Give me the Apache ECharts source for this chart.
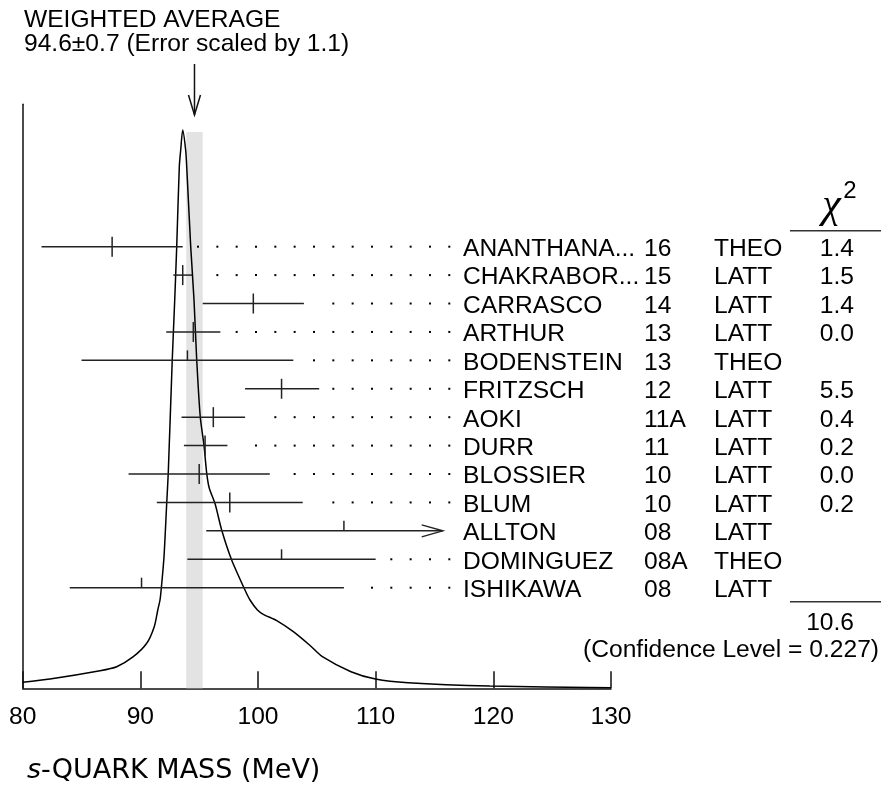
<!DOCTYPE html>
<html><head><meta charset="utf-8">
<script src="https://cdn.jsdelivr.net/npm/echarts@6/dist/echarts.min.js"></script>
<style>html,body{margin:0;padding:0;background:#fff}#c{width:882px;height:787px}</style>
</head><body><div id="c"></div>
<script>
// ---- data ----
const names = ['ANANTHANA...','CHAKRABOR...','CARRASCO','ARTHUR','BODENSTEIN','FRITZSCH','AOKI','DURR','BLOSSIER','BLUM','ALLTON','DOMINGUEZ','ISHIKAWA'];
const years = ['16','15','14','13','13','12','11A','11','10','10','08','08A','08'];
const types = ['THEO','LATT','LATT','LATT','THEO','LATT','LATT','LATT','LATT','LATT','LATT','THEO','LATT'];
const centers = [87.6, 93.6, 99.6, 94.5, 94.0, 102.0, 96.2, 95.5, 95.0, 97.6, 107.3, 102.0, 90.1];
const lows    = [81.6, 92.8, 95.3, 92.2, 85.0,  98.9, 93.5, 93.7, 89.0, 91.4,  95.6,  94.0, 84.0];
const highs   = [93.6, 94.4, 103.9, 96.8, 103.0, 105.2, 98.9, 97.4, 101.0, 103.8, 119.0, 110.0, 107.3];
const chi2    = ['1.4','1.5','1.4','0.0','','5.5','0.4','0.2','0.0','0.2','','',''];
const chi2Total = '10.6';
const confLevel = '(Confidence Level = 0.227)';
const wavg = 94.6, wavgErr = 0.7;
const titleLines = ['WEIGHTED AVERAGE', '94.6\u00b10.7 (Error scaled by 1.1)'];
const xTicks = [80, 90, 100, 110, 120, 130];
// ideogram curve (mass, relative height)
const curveX = [80.0, 82.32, 86.57, 87.99, 89.40, 90.54, 91.18, 91.48, 91.67, 91.78, 92.01, 92.24, 92.37, 92.71, 92.92, 93.09, 93.31, 93.43, 93.60,
                93.85, 93.94, 94.28, 94.56, 94.79, 95.09, 95.41, 95.64, 95.86, 96.34, 96.91, 97.76, 98.89, 99.32, 99.95, 100.45, 101.59, 103.0, 104.4, 105.47, 107.9, 109.98, 112.75, 119.7, 130.0];
const curveH = [6.0, 9.3, 17.6, 21.6, 31.6, 45, 61.6, 78.3, 88.3, 100, 131.6, 185, 215, 328.3, 388.3, 441.6, 521.6, 538.3, 558.3,
                538.3, 521.6, 441.6, 388.3, 328.3, 271.6, 242.6, 215, 200, 185, 158.3, 128.3, 98.3, 88.3, 78.3, 74, 67.6, 56.6, 43, 31.6, 16.6, 9.3, 5.6, 2.3, 0.6];

// ---- layout constants ----
const FONT = '"Liberation Sans", Arial, Helvetica, sans-serif';
const FS = 24.6;
const INK = '#111';
const colName = 463, colYear = 644, colType = 714, colChiRight = 854;
const dotEnd = 449.3, dotStep = 19.33, dotGap = 12.5, arrowClamp = 442.7;

const chart = echarts.init(document.getElementById('c'), null, {renderer: 'canvas'});

function txt(x, y, text, align, size, extra) {
  return Object.assign({
    type: 'text', x: x, y: y,
    style: {text: text, fill: '#000', font: (size || FS) + 'px ' + FONT,
      align: align || 'left', verticalAlign: 'middle', textAlign: align || 'left', textVerticalAlign: 'middle'}
  }, extra || {});
}

const bandTop = Math.max.apply(null, curveH) - 2;

const option = {
  animation: false,
  backgroundColor: '#fff',
  grid: {left: 22.7, right: 271, top: 104.3, bottom: 98.7, containLabel: false, outerBoundsMode: 'none'},
  xAxis: {
    type: 'value', min: 80, max: 130, interval: 10,
    axisLine: {show: true, onZero: false, lineStyle: {color: INK, width: 1.5}},
    axisTick: {show: true, inside: true, length: 17, lineStyle: {color: INK, width: 1.5}},
    axisLabel: {show: true, margin: 16, color: '#000', fontSize: FS, fontFamily: FONT, showMinLabel: true, showMaxLabel: true,
      formatter: v => xTicks.indexOf(v) >= 0 ? String(v) : ''},
    splitLine: {show: false}
  },
  yAxis: [
    {type: 'value', min: 0, max: 584, axisLine: {show: true, lineStyle: {color: INK, width: 1.5}},
     axisTick: {show: false}, axisLabel: {show: false}, splitLine: {show: false}},
    {type: 'value', min: -5.01, max: 15.54, inverse: true, show: false, splitLine: {show: false}}
  ],
  series: [
    { // weighted-average band
      type: 'custom', xAxisIndex: 0, yAxisIndex: 0, z: 1, clip: false,
      data: [[wavg - wavgErr, wavg + wavgErr]],
      renderItem: function (params, api) {
        const p1 = api.coord([api.value(0), bandTop]);
        const p2 = api.coord([api.value(1), 0]);
        return {type: 'rect', shape: {x: p1[0], y: p1[1], width: p2[0] - p1[0], height: p2[1] - p1[1]},
          style: {fill: '#e3e3e3'}};
      }
    },
    { // ideogram curve
      type: 'line', xAxisIndex: 0, yAxisIndex: 0, z: 3,
      data: curveX.map((x, i) => [x, curveH[i]]),
      showSymbol: false, smooth: 0.25,
      lineStyle: {color: '#000', width: 1.5}
    },
    { // weighted-average arrow
      type: 'custom', xAxisIndex: 0, yAxisIndex: 0, z: 4, clip: false,
      data: [[wavg]],
      renderItem: function (params, api) {
        const x = api.coord([api.value(0), 0])[0];
        return {type: 'group', children: [
          {type: 'line', shape: {x1: x, y1: 64, x2: x, y2: 115}, style: {stroke: INK, lineWidth: 1.5}},
          {type: 'polyline', shape: {points: [[x - 6, 95], [x, 115], [x + 6, 95]]}, style: {stroke: INK, lineWidth: 1.5, fill: null}}
        ]};
      }
    },
    { // measurements: error bars, leaders, table text
      type: 'custom', xAxisIndex: 0, yAxisIndex: 1, z: 5, clip: false,
      data: names.map((n, i) => [lows[i], highs[i], centers[i], i]),
      renderItem: function (params, api) {
        const i = api.value(3);
        const y = api.coord([80, i])[1];
        const xl = api.coord([api.value(0), i])[0];
        let xr = api.coord([api.value(1), i])[0];
        const xc = api.coord([api.value(2), i])[0];
        const used = chi2[i] !== '';
        const arrow = xr > arrowClamp;
        if (arrow) xr = arrowClamp;
        const st = {stroke: '#222', lineWidth: 1.5};
        const ch = [];
        ch.push({type: 'line', shape: {x1: xl, y1: y, x2: xr, y2: y}, style: st});
        ch.push({type: 'line', shape: {x1: xc, y1: y - 10, x2: xc, y2: used ? y + 10 : y}, style: st});
        if (arrow) {
          ch.push({type: 'polyline', shape: {points: [[xr - 21, y - 6], [xr, y], [xr - 21, y + 6]]}, style: {stroke: '#222', lineWidth: 1.5, fill: null}});
        } else {
          for (let k = 0; k < 14; k++) {
            const dx = dotEnd - k * dotStep;
            if (dx >= xr + dotGap) ch.push({type: 'rect', shape: {x: dx - 1, y: y - 1, width: 2, height: 2}, style: {fill: '#000'}});
          }
        }
        const ty = y + 2.6;
        ch.push(txt(colName, ty, names[i]));
        ch.push(txt(colYear, ty, years[i]));
        ch.push(txt(colType, ty, types[i]));
        if (chi2[i]) ch.push(txt(colChiRight, ty, chi2[i], 'right'));
        return {type: 'group', children: ch};
      }
    }
  ],
  graphic: [
    txt(24, 19.8, titleLines[0]),
    txt(24, 44.5, titleLines[1]),
    {type: 'text', x: 831.5, y: 206, style: {text: '\u03c7', fill: '#000', font: 'italic 42px "Liberation Serif", serif', align: 'center', verticalAlign: 'middle', textAlign: 'center', textVerticalAlign: 'middle'}},
    txt(850, 191.5, '2', 'center', 24),
    {type: 'line', shape: {x1: 790, y1: 230.7, x2: 881, y2: 230.7}, style: {stroke: '#333', lineWidth: 1.5}},
    {type: 'line', shape: {x1: 790, y1: 601.7, x2: 881, y2: 601.7}, style: {stroke: '#333', lineWidth: 1.5}},
    txt(colChiRight, 623.5, chi2Total, 'right'),
    txt(879, 650, confLevel, 'right'),
    {type: 'text', x: 27, y: 770.5, style: {text: '{i|s}-QUARK MASS (MeV)', fill: '#000', font: '27px "DejaVu Sans"', fontFamily: 'DejaVu Sans', fontSize: 27,
      align: 'left', verticalAlign: 'middle', textAlign: 'left', textVerticalAlign: 'middle',
      rich: {i: {fontFamily: 'DejaVu Sans', fontSize: 27, fontStyle: 'italic', fill: '#000'}}}}
  ]
};
chart.setOption(option);
</script>
</body></html>
